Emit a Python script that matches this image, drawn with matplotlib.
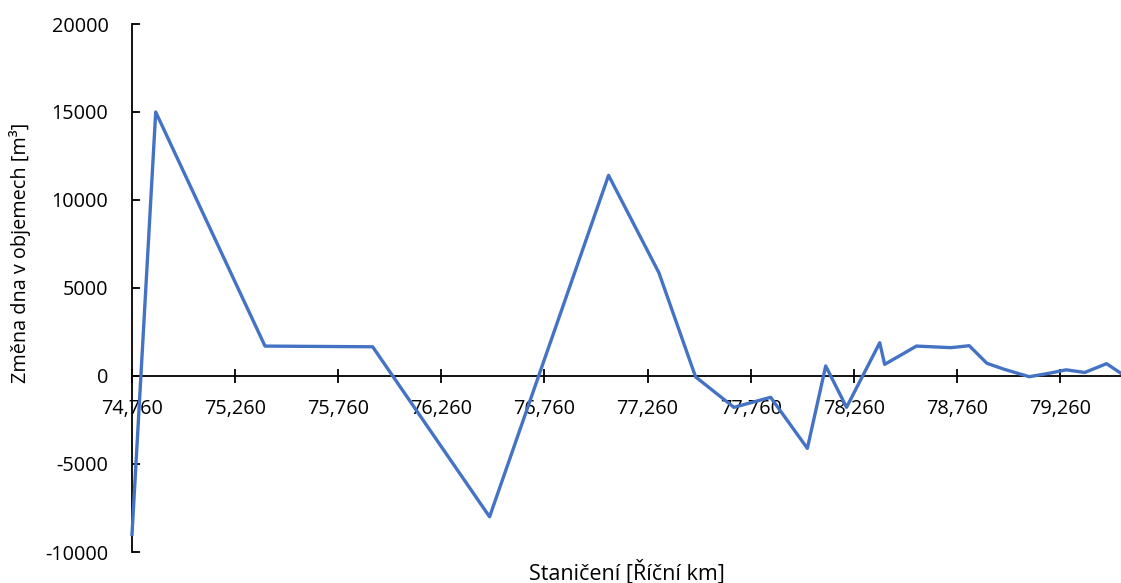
import matplotlib.pyplot as plt
from matplotlib.ticker import FuncFormatter, MultipleLocator, FixedLocator

plt.rcParams['font.family'] = ['Open Sans', 'DejaVu Sans']

# stanice [km] a zmena dna [m3]
km = [74.760, 74.875, 75.405, 75.927, 76.494, 77.071, 77.315, 77.493, 77.679,
      77.857, 78.035, 78.124, 78.225, 78.386, 78.410, 78.564, 78.731, 78.820,
      78.906, 78.990, 79.111, 79.205, 79.290, 79.380, 79.486, 79.556]
zmena = [-9000, 15000, 1700, 1660, -8000, 11400, 5870, -50, -1780,
         -1210, -4110, 570, -1780, 1890, 660, 1700, 1610, 1720,
         720, 380, -40, 150, 350, 200, 700, 150]
x_ticks = [74.76, 75.26, 75.76, 76.26, 76.76, 77.26, 77.76, 78.26, 78.76, 79.26]

fig = plt.figure(figsize=(11.21, 5.83), dpi=100)
ax = fig.add_axes([132 / 1121, 1 - 552 / 583, 989 / 1121, 528 / 583])

ax.plot(km, zmena, color='#4472C4', lw=2.4, solid_joinstyle='round', clip_on=False)

ax.set_xlim(74.76, km[-1])
ax.set_ylim(-10000, 20000)

ax.spines['top'].set_visible(False)
ax.spines['right'].set_visible(False)
ax.spines['bottom'].set_position(('data', 0))
for s in ['left', 'bottom']:
    ax.spines[s].set_linewidth(1.3)
    ax.spines[s].set_color('black')
    ax.spines[s].set_zorder(1)

ax.xaxis.set_major_locator(FixedLocator(x_ticks))
ax.xaxis.set_major_formatter(FuncFormatter(lambda v, p: f"{v:.3f}".replace('.', ',')))
ax.yaxis.set_major_locator(MultipleLocator(5000))
ax.yaxis.set_major_formatter(FuncFormatter(lambda v, p: str(int(v))))

ax.tick_params(axis='x', direction='inout', length=10, width=1.3, pad=11.5, labelsize=14.3)
ax.tick_params(axis='y', direction='in', length=6, width=1.3, pad=17, labelsize=14.3)

ax.set_xlabel('Staničení [Říční km]', fontsize=15.5)
ax.xaxis.set_label_coords(0.5, -0.015)
ax.xaxis.label.set_va('top')

fig.text(20 / 1121, 1 - 253 / 583, 'Změna dna v objemech [m³]', rotation=90,
         ha='center', va='center', fontsize=14.3)

fig.savefig('out.png', dpi=100)
